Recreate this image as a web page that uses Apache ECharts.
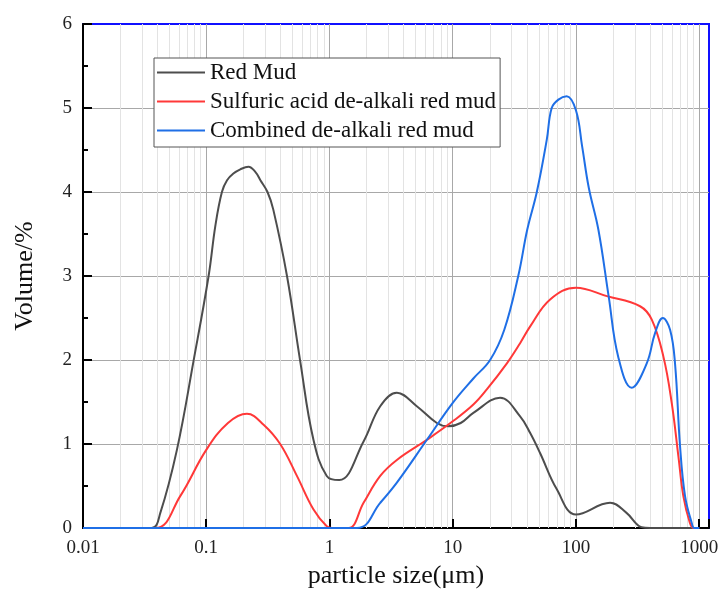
<!DOCTYPE html>
<html>
<head>
<meta charset="utf-8">
<script src="https://cdn.jsdelivr.net/npm/echarts@6/dist/echarts.min.js"></script>
<style>
	html, body { margin: 0; padding: 0; background: #fff; }
	#chart { width: 724px; height: 603px; }
</style>
</head>
<body>
<div id="chart"></div>
<script>
// particle size (um) / volume (%)
var redMudSize = [0.01, 0.036, 0.0424, 0.0578, 0.0789, 0.1045, 0.1186, 0.134, 0.1475, 0.166, 0.189, 0.22, 0.25, 0.275, 0.314, 0.35, 0.452, 0.578, 0.741, 0.95, 1.2, 1.89, 2.58, 3.52, 5.11, 7.43, 9.2, 11.6, 14.7, 24.2, 35.2, 42.5, 51.2, 69.9, 100, 189, 257, 340, 400, 1000];
var redMudVol = [0, 0, 0.18, 0.93, 1.99, 3.0, 3.6, 4.0, 4.14, 4.22, 4.27, 4.30, 4.24, 4.14, 4.0, 3.79, 3.0, 1.99, 1.05, 0.62, 0.57, 1.03, 1.45, 1.61, 1.45, 1.25, 1.21, 1.25, 1.37, 1.55, 1.33, 1.13, 0.89, 0.46, 0.16, 0.30, 0.18, 0.01, 0, 0];

var sulfuricSize = [0.01, 0.0386, 0.0615, 0.1, 0.15, 0.214, 0.292, 0.398, 0.544, 0.742, 0.95, 1.05, 1.43, 1.89, 2.58, 3.52, 6.17, 10, 14.7, 18.9, 27.5, 35.2, 42.5, 61.7, 100, 178, 331, 412, 512, 598, 678, 743, 840, 900, 1000];
var sulfuricVol = [0, 0, 0.38, 0.93, 1.25, 1.36, 1.23, 1.0, 0.62, 0.22, 0.02, 0, 0, 0.30, 0.62, 0.81, 1.05, 1.27, 1.47, 1.65, 1.96, 2.20, 2.40, 2.72, 2.86, 2.76, 2.64, 2.48, 2.04, 1.49, 0.85, 0.38, 0.06, 0, 0];

var combinedSize = [0.01, 1.67, 2.58, 3.52, 6.17, 10, 14.7, 20.1, 26.2, 34.0, 40.2, 48.1, 57.9, 63.5, 72, 84, 100, 112, 127, 152, 184, 220, 283, 375, 438, 506, 580, 636, 699, 767, 869, 910, 1000];
var combinedVol = [0, 0, 0.30, 0.54, 1.05, 1.49, 1.78, 2.0, 2.36, 3.0, 3.55, 4.0, 4.62, 5.0, 5.10, 5.14, 4.97, 4.55, 4.05, 3.55, 2.76, 2.04, 1.67, 1.96, 2.32, 2.50, 2.36, 1.96, 0.97, 0.38, 0.06, 0, 0];

var seriesNames = ['Red Mud', 'Sulfuric acid de-alkali red mud', 'Combined de-alkali red mud'];
var seriesColors = ['#4d4d4d', '#ff3838', '#1f6fe6'];
var tickLabels = ['0.01', '0.1', '1', '10', '100', '1000'];

function pairs(xs, ys) {
	var out = [];
	for (var i = 0; i < xs.length; i++) {
		out.push([xs[i], ys[i]]);
	}
	return out;
}

// light grey minor grid at 2..9 of each decade
var minorLines = [];
for (var d = -2; d <= 3; d++) {
	for (var m = 2; m <= 9; m++) {
		var v = m * Math.pow(10, d);
		if (v < 1200) minorLines.push({ xAxis: v });
	}
}

function curve(i, data) {
	return {
		name: seriesNames[i],
		type: 'line',
		smooth: 0.4,
		symbol: 'none',
		z: 2,
		lineStyle: { color: seriesColors[i], width: 2, type: 'solid' },
		itemStyle: { color: seriesColors[i], borderWidth: 0 },
		data: data
	};
}

// legend entries with their own solid swatch
var legendData = [];
for (var i = 0; i < seriesNames.length; i++) {
	legendData.push({
		name: seriesNames[i],
		icon: 'rect',
		itemStyle: { color: seriesColors[i], borderWidth: 0 }
	});
}

var serif = 'Liberation Serif, Times New Roman, serif';

var chart = echarts.init(document.getElementById('chart'));
chart.setOption({
	animation: false,
	backgroundColor: '#fff',
	grid: {
		left: 83,
		right: 15,
		top: 24,
		bottom: 75,
		show: true,
		borderColor: '#1010ff',
		borderWidth: 2
	},
	legend: {
		orient: 'vertical',
		left: 154,
		top: 58,
		z: 10,
		padding: [3, 4, 5, 3],
		icon: 'rect',
		itemWidth: 48,
		itemHeight: 2,
		itemGap: 6,
		itemStyle: { borderWidth: 0 },
		backgroundColor: '#fff',
		borderColor: '#555',
		borderWidth: 1,
		data: legendData,
		textStyle: {
			fontFamily: serif,
			fontSize: 23,
			color: '#111',
			lineHeight: 23
		}
	},
	xAxis: {
		type: 'log',
		logBase: 10,
		min: 0.01,
		max: 1200,
		name: 'particle size(\u03bcm)',
		nameLocation: 'middle',
		nameGap: 35,
		nameTextStyle: { fontFamily: serif, fontSize: 26, color: '#111' },
		axisLine: { lineStyle: { color: '#000', width: 2 } },
		axisTick: { inside: true, length: 9, lineStyle: { color: '#000', width: 2 } },
		axisLabel: {
			fontFamily: serif,
			fontSize: 19,
			color: '#222',
			margin: 11,
			formatter: function(val) {
				var e = Math.log(val) / Math.LN10;
				var r = Math.round(e);
				if (Math.abs(e - r) > 1e-6) return '';
				return tickLabels[r + 2] || '';
			}
		},
		splitLine: { show: true, showMaxLine: false, lineStyle: { color: '#a8a8a8', width: 1 } }
	},
	yAxis: {
		type: 'value',
		min: 0,
		max: 6,
		interval: 1,
		name: 'Volume/%',
		nameLocation: 'middle',
		nameGap: 45,
		nameTextStyle: { fontFamily: serif, fontSize: 26, color: '#111' },
		axisLine: { show: true, lineStyle: { color: '#000', width: 2 } },
		axisTick: { show: true, inside: true, length: 9, lineStyle: { color: '#000', width: 2 } },
		minorTick: { show: true, splitNumber: 2, length: 5, lineStyle: { color: '#000', width: 2 } },
		axisLabel: { fontFamily: serif, fontSize: 19, color: '#222', margin: 11 },
		splitLine: { show: true, showMaxLine: false, lineStyle: { color: '#a8a8a8', width: 1 } }
	},
	series: [{
		name: 'minor grid',
		type: 'line',
		data: [],
		z: 1,
		silent: true,
		markLine: {
			silent: true,
			z: 1,
			symbol: 'none',
			label: { show: false },
			lineStyle: { color: '#e3e3e3', width: 1, type: 'solid' },
			data: minorLines
		}
	},
		curve(0, pairs(redMudSize, redMudVol)),
		curve(1, pairs(sulfuricSize, sulfuricVol)),
		curve(2, pairs(combinedSize, combinedVol))
	]
});
</script>
</body>
</html>
